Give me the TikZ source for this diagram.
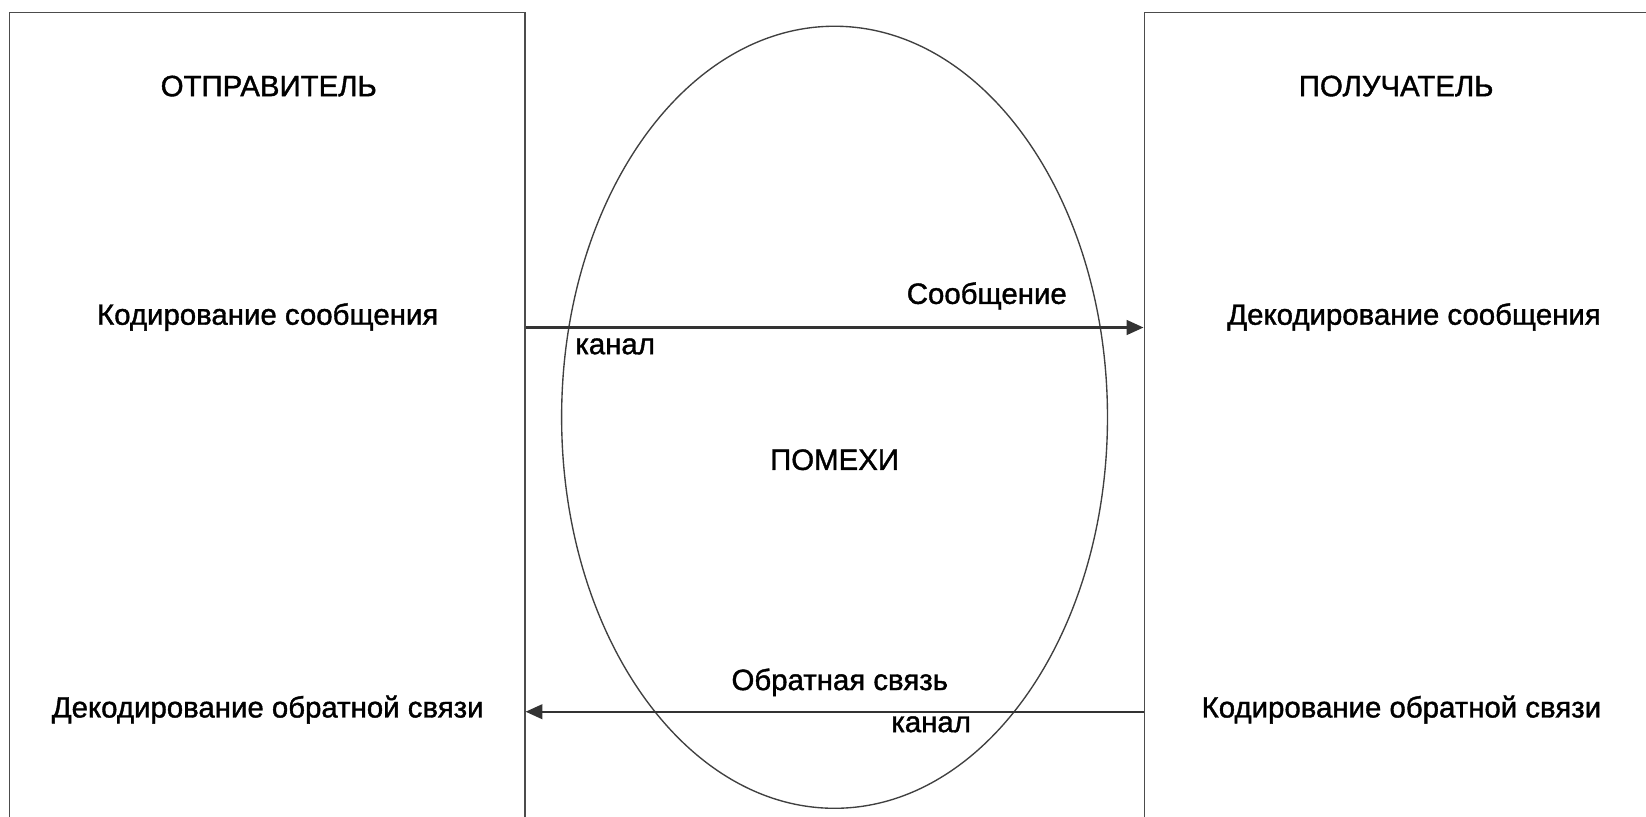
\documentclass[tikz,border=0pt]{standalone}
\usepackage{fontspec}
\setmainfont{Liberation Sans}[FakeBold=1.3]
\usetikzlibrary{arrows.meta, shapes.geometric}

\begin{document}
\begin{tikzpicture}[
  x=1pt, y=1pt,
  % open frames of the two parties (bottom edge falls off the page)
  party/.style={rectangle, draw=black!70, line width=1.4pt,
                minimum width=#1, minimum height=800pt, inner sep=0pt},
  % plain captions
  txt/.style={font=\fontsize{28}{32}\selectfont, inner sep=0pt},
  arrow/.style={-{Triangle[length=16pt, width=14pt]}, line width=2pt,
                draw=black!80}
]
\useasboundingbox (0,0) rectangle (1568,778);
\clip (0,0) rectangle (1568,778);

%% ── Sender and receiver frames ──────────────────────────────
\node[party=491pt] (sender)   at (254.5, 366) {};
\node[party=520pt] (receiver) at (1350,  366) {};

%% ── Noise cloud (ellipse between the frames) ────────────────
\node[ellipse, draw=black!75, line width=1.3pt, inner sep=0pt,
      minimum width=520pt, minimum height=745pt] (noise) at (795, 380.5) {};

%% ── Captions inside the frames ──────────────────────────────
\node[txt] (sname) at (256, 696) {ОТПРАВИТЕЛЬ};
\node[txt] (rname) at (1330, 696) {ПОЛУЧАТЕЛЬ};
\node[txt] (enc)   at (255, 476) {Кодирование сообщения};
\node[txt] (dec)   at (1347, 476) {Декодирование сообщения};
\node[txt] (fbdec) at (255, 102) {Декодирование обратной связи};
\node[txt] (fbenc) at (1335, 102) {Кодирование обратной связи};

%% ── Channels ────────────────────────────────────────────────
\coordinate (msg) at (0, 466);
\coordinate (fb)  at (0, 100);
\draw[arrow] (sender.east |- msg) -- (receiver.west |- msg);
\draw[arrow] (receiver.west |- fb) -- (sender.east |- fb);

\node[txt] (msglbl) at (940, 496) {Сообщение};
\node[txt] (chan1)  at (586, 448) {канал};
\node[txt] (nlbl)   at (795, 340) {ПОМЕХИ};
\node[txt] (fblbl)  at (800, 128) {Обратная связь};
\node[txt] (chan2)  at (887,  88) {канал};

\end{tikzpicture}
\end{document}
